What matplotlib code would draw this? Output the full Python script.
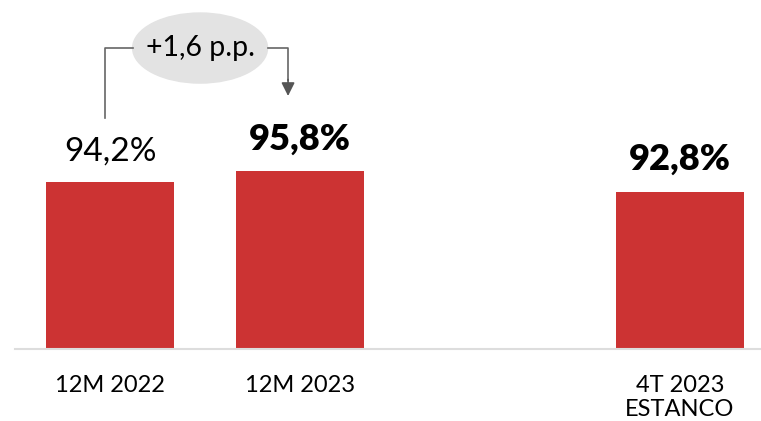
import matplotlib
matplotlib.use("Agg")
import matplotlib.pyplot as plt
from matplotlib.patches import Ellipse

# data
categories = ["12M 2022", "12M 2023", "4T 2023\nESTANCO"]
positions = [0, 1, 3]
values = [94.2, 95.8, 92.8]
labels = ["94,2%", "95,8%", "92,8%"]
bold_label = [False, True, True]
delta_text = "+1,6 p.p."

bar_color = "#CC3333"
plt.rcParams["font.family"] = ["Lato", "DejaVu Sans"]

fig = plt.figure(figsize=(7.61, 4.21), dpi=100)
ax = fig.add_axes([15 / 761, 72 / 421, 746 / 761, 349 / 421])

ax.bar(positions, values, width=0.67, color=bar_color, bottom=0)
ax.set_xlim(-0.5, 3.426)
ax.set_ylim(69.2, 121.5)

for p, v, lab, b in zip(positions, values, labels, bold_label):
    ax.text(p, v + 2.4, lab, ha="center", va="bottom",
            fontsize=26 if b else 24,
            fontweight="heavy" if b else "normal", color="black")

for s in ["top", "right", "left"]:
    ax.spines[s].set_visible(False)
ax.spines["bottom"].set_color("#DDDDDD")
ax.spines["bottom"].set_linewidth(1.5)
ax.set_yticks([])
ax.set_xticks(positions)
ax.set_xticklabels(categories, fontsize=17, linespacing=1.15)
ax.tick_params(axis="x", length=0, pad=19)

# delta bubble with connectors
ax.add_patch(Ellipse((0.474, 114.3), 0.71, 10.5, color="#E3E3E3", zorder=2))
ax.text(0.474, 114.3, delta_text, ha="center", va="center", fontsize=20.5,
        zorder=3)
ax.plot([-0.026, -0.026, 0.121], [103.8, 114.3, 114.3], color="#666666", lw=1.2)
ax.plot([0.832, 0.937, 0.937], [114.3, 114.3, 109.5], color="#666666", lw=1.2)
ax.annotate("", xy=(0.937, 106.7), xytext=(0.937, 110.0),
            arrowprops=dict(arrowstyle="-|>,head_width=0.4,head_length=0.8",
                            color="#555555", lw=1.2))

fig.savefig("out.png", dpi=100)
